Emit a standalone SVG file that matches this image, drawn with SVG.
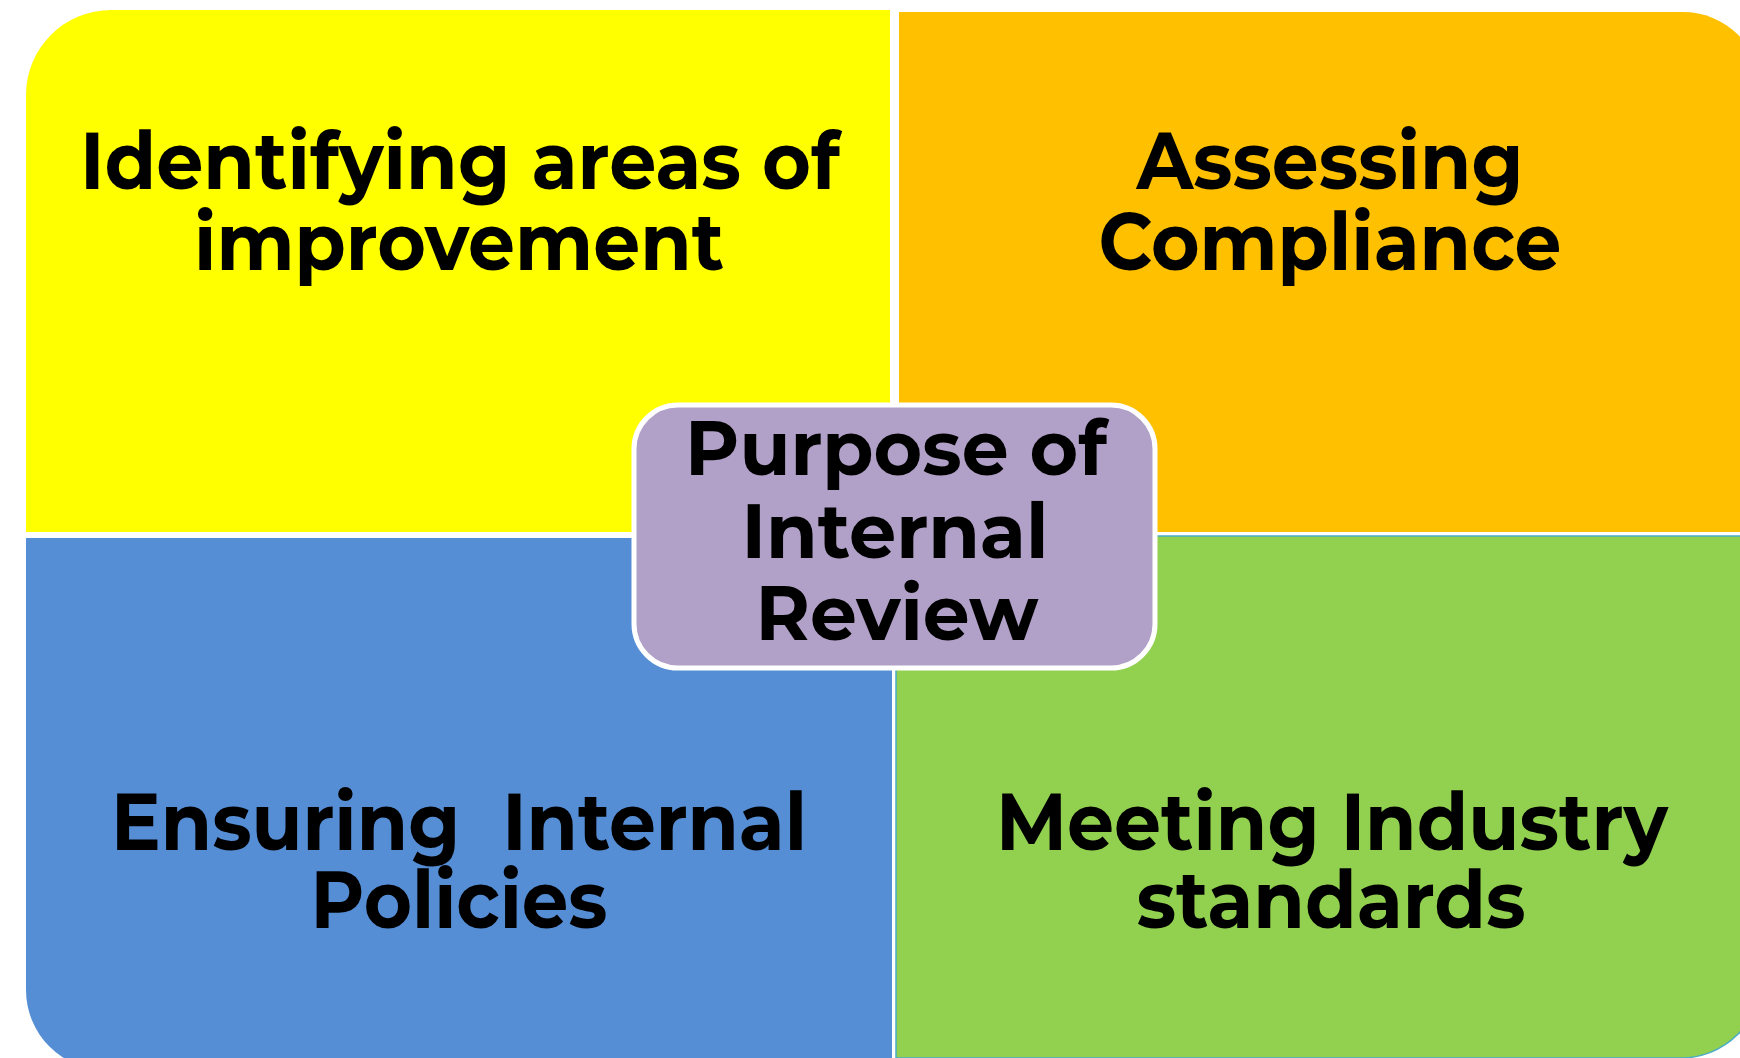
<svg xmlns="http://www.w3.org/2000/svg" width="1740" height="1058" viewBox="0 0 1740 1058">
<style>
.t{font-family:"Montserrat","Noto Sans","Liberation Sans",sans-serif;font-weight:700;fill:#000;text-anchor:middle;}
.q{font-size:80px;}
.c{font-size:76px;}
</style>
<rect width="1740" height="1058" fill="#fff"/>
<g id="q-identifying">
<path d="M26,532 V95 A85,85 0 0 1 111,10 H890 V532 Z" fill="#FFFF00"/>
<text class="t q" x="460" y="189" textLength="760" lengthAdjust="spacingAndGlyphs">Identifying areas of</text>
<text class="t q" x="459" y="270" textLength="530" lengthAdjust="spacingAndGlyphs">improvement</text>
</g>
<g id="q-assessing">
<path d="M899,532 V12 H1683 A78,78 0 0 1 1761,90 V532 Z" fill="#FFC000"/>
<text class="t q" x="1330" y="189" textLength="387" lengthAdjust="spacingAndGlyphs">Assessing</text>
<text class="t q" x="1330" y="270" textLength="463" lengthAdjust="spacingAndGlyphs">Compliance</text>
</g>
<g id="q-ensuring">
<path d="M26,538 H892 V1070 H106 A80,80 0 0 1 26,990 Z" fill="#558ED5"/>
<text class="t q" x="459" y="850" textLength="696" lengthAdjust="spacingAndGlyphs">Ensuring&#160; Internal</text>
<text class="t q" x="459" y="928" textLength="297" lengthAdjust="spacingAndGlyphs">Policies</text>
</g>
<g id="q-meeting">
<path d="M896,536 H1761 V978 A80,80 0 0 1 1681,1058 H896 Z" fill="#92D050" stroke="#4BACC6" stroke-width="1.5"/>
<text class="t q" x="1332" y="850" textLength="672" lengthAdjust="spacingAndGlyphs">Meeting Industry</text>
<text class="t q" x="1331" y="928" textLength="389" lengthAdjust="spacingAndGlyphs">standards</text>
</g>
<g id="center">
<rect x="634" y="405" width="521" height="263" rx="44" ry="44" fill="#B1A0C7" stroke="#fff" stroke-width="5"/>
<text class="t c" x="896" y="475" textLength="422" lengthAdjust="spacingAndGlyphs">Purpose of</text>
<text class="t c" x="895" y="558" textLength="307" lengthAdjust="spacingAndGlyphs">Internal</text>
<text class="t c" x="897" y="640" textLength="283" lengthAdjust="spacingAndGlyphs">Review</text>
</g>
</svg>
